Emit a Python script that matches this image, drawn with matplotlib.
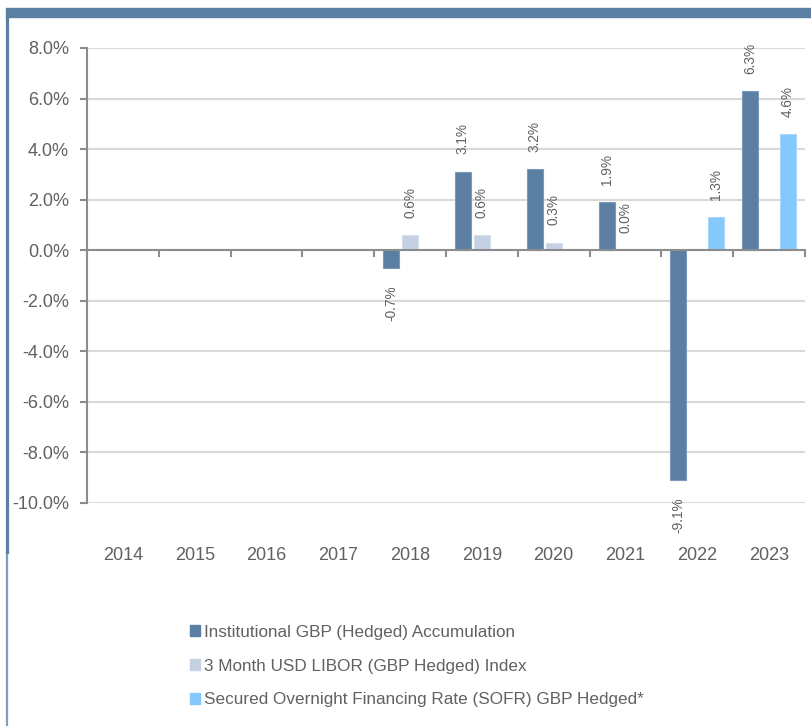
import matplotlib
matplotlib.use("Agg")
import matplotlib.pyplot as plt
from matplotlib.patches import Rectangle
from matplotlib.lines import Line2D
import numpy as np

plt.rcParams['font.family'] = ['Liberation Sans', 'DejaVu Sans']

years = ['2014', '2015', '2016', '2017', '2018', '2019', '2020', '2021', '2022', '2023']
series_names = ['Institutional GBP (Hedged) Accumulation',
                '3 Month USD LIBOR (GBP Hedged) Index',
                'Secured Overnight Financing Rate (SOFR) GBP Hedged*']
institutional = [None, None, None, None, -0.7, 3.1, 3.2, 1.9, -9.1, 6.3]
libor = [None, None, None, None, 0.6, 0.6, 0.3, 0.0, None, None]
sofr = [None, None, None, None, None, None, None, None, 1.3, 4.6]
colors = ['#5b7fa3', '#c4d1e3', '#85c8fc']
edge_colors = ['#7d9abb', '#d6e0ec', '#a8d8fd']
y_ticks = [8, 6, 4, 2, 0, -2, -4, -6, -8, -10]

W, H = 811, 726
fig = plt.figure(figsize=(W / 100, H / 100), dpi=100)
ax = fig.add_axes([87 / W, 1 - 503 / H, (805 - 87) / W, (503 - 48) / H])

text_color = '#616161'
axis_color = '#8c8c8c'

x = np.arange(len(years))
offsets = [-0.264, 0.0, 0.264]
width = 0.222
for s, (vals, c, ec, off) in enumerate(zip([institutional, libor, sofr], colors, edge_colors, offsets)):
    for i, v in enumerate(vals):
        if v is None:
            continue
        ax.bar(x[i] + off, v, width=width, color=c, edgecolor=ec, linewidth=0.8, zorder=3)
        if v >= 0:
            ax.annotate(f'{v:.1f}%', (x[i] + off, v), xytext=(0, 12.5), textcoords='offset points',
                        rotation=90, ha='center', va='bottom', fontsize=9.8, color=text_color)
        else:
            ax.annotate(f'{v:.1f}%', (x[i] + off, v), xytext=(0, -12.5), textcoords='offset points',
                        rotation=90, ha='center', va='top', fontsize=9.8, color=text_color)

ax.set_xlim(-0.5, len(years) - 0.5)
ax.set_ylim(-10, 8)
ax.set_yticks(y_ticks)
ax.set_yticklabels([f'{t:.1f}%' for t in y_ticks], fontsize=13, color=text_color)
ax.grid(axis='y', color='#d9d9d9', linewidth=1.5, zorder=0)
ax.set_axisbelow(True)

for side in ['top', 'right']:
    ax.spines[side].set_visible(False)
ax.spines['left'].set_color(axis_color)
ax.spines['left'].set_linewidth(1.5)
ax.spines['bottom'].set_position(('data', 0))
ax.spines['bottom'].set_color(axis_color)
ax.spines['bottom'].set_linewidth(1.5)
ax.spines['bottom'].set_zorder(4)
ax.tick_params(axis='y', direction='out', length=5, width=1.5, color=axis_color, pad=8)
ax.set_xticks(np.arange(len(years) + 1) - 0.5)
ax.set_xticklabels([])
ax.tick_params(axis='x', direction='out', length=5, width=1.5, color=axis_color)

sec = ax.secondary_xaxis(0)
sec.set_xticks(x)
sec.set_xticklabels(years, fontsize=13, color=text_color)
sec.tick_params(length=0, pad=32)
sec.spines['bottom'].set_visible(False)

# frame decorations
fig.patches.append(Rectangle((6 / W, 1 - 17 / H), 1 - 6 / W, 9 / H, transform=fig.transFigure,
                             color='#5b7fa3', zorder=5))
fig.lines.append(Line2D([7 / W, 7 / W], [0, 1 - 552 / H], transform=fig.transFigure,
                        color='#7c9fc2', linewidth=1.6))
fig.lines.append(Line2D([6.8 / W, 6.8 / W], [1 - 552 / H, 1 - 17 / H], transform=fig.transFigure,
                        color='#5b7fa3', linewidth=2.3))

# legend
handles = [Rectangle((0, 0), 1, 1, color=c) for c in colors]
leg = fig.legend(handles, series_names, loc='upper left', bbox_to_anchor=(183 / W, 1 - 618 / H),
                 frameon=False, fontsize=12.3, labelcolor=text_color, handlelength=0.6,
                 handleheight=0.6, handletextpad=0.25, labelspacing=1.1, borderaxespad=0)

fig.savefig('out.png', dpi=100)
